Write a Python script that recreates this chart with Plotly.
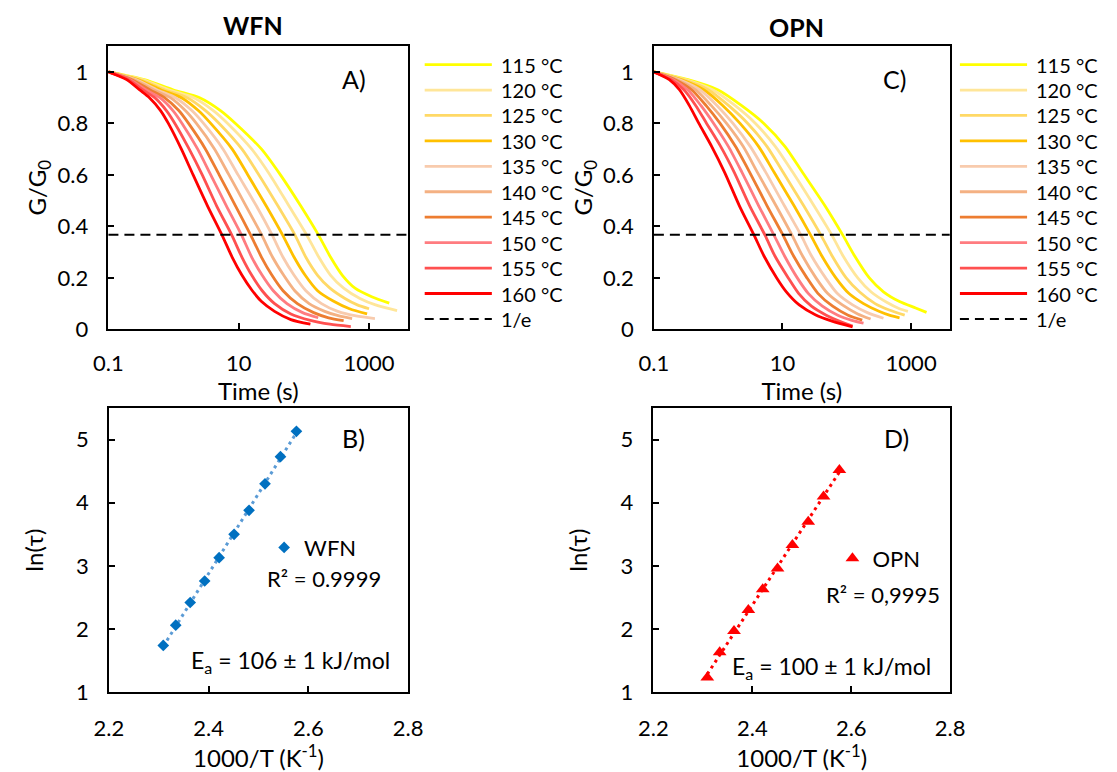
import numpy as np
import plotly.graph_objects as go

W, H = 1117, 772
FONT = "Lato, 'Open Sans', sans-serif"

TEMPS = [115, 120, 125, 130, 135, 140, 145, 150, 155, 160]
COLORS = ["#FFFF00", "#FFE699", "#FFD966", "#FFC000", "#F8CBAD",
          "#F4B183", "#ED7D31", "#FF7C80", "#FF5050", "#FF0000"]

# ---------------- WFN relaxation curves (log10 of time in s, G/G0) ----------------
G_TOP_A = [1.0, 0.97, 0.93, 0.9, 0.85, 0.8, 0.7, 0.6, 0.48, 0.368, 0.28, 0.21]
WFN_115_LOGT = [-1, -0.45, 0.00, 0.40, 0.72, 0.95, 1.35, 1.64, 1.95, 2.22, 2.41, 2.59, 2.79, 3.04, 3.31]
WFN_115_G = G_TOP_A + [0.159, 0.127, 0.102]
WFN_120_LOGT = [-1, -0.48, -0.06, 0.31, 0.61, 0.83, 1.20, 1.48, 1.77, 2.04, 2.23, 2.41, 2.61, 2.86, 3.10, 3.43]
WFN_120_G = G_TOP_A + [0.16, 0.12, 0.095, 0.073]
WFN_125_LOGT = [-1, -0.52, -0.13, 0.21, 0.49, 0.70, 1.05, 1.31, 1.60, 1.86, 2.03, 2.21, 2.40, 2.63, 2.82, 3.00]
WFN_125_G = G_TOP_A + [0.16, 0.12, 0.095, 0.08]
WFN_130_LOGT = [-1, -0.55, -0.19, 0.12, 0.38, 0.57, 0.90, 1.14, 1.42, 1.67, 1.85, 2.02, 2.21, 2.45, 2.70, 2.97]
WFN_130_G = G_TOP_A + [0.15, 0.11, 0.08, 0.06]
WFN_135_LOGT = [-1, -0.58, -0.25, 0.03, 0.28, 0.46, 0.76, 0.99, 1.27, 1.51, 1.68, 1.85, 2.03, 2.27, 2.52, 2.80, 3.09]
WFN_135_G = G_TOP_A + [0.15, 0.10, 0.07, 0.052, 0.042]
WFN_140_LOGT = [-1, -0.61, -0.30, -0.05, 0.18, 0.35, 0.63, 0.85, 1.11, 1.35, 1.52, 1.69, 1.86, 2.08, 2.32, 2.54, 2.74]
WFN_140_G = G_TOP_A + [0.15, 0.10, 0.07, 0.052, 0.042]
WFN_145_LOGT = [-1, -0.64, -0.36, -0.14, 0.08, 0.23, 0.49, 0.70, 0.95, 1.18, 1.35, 1.51, 1.68, 1.90, 2.15, 2.38, 2.61]
WFN_145_G = G_TOP_A + [0.15, 0.10, 0.065, 0.045, 0.034]
WFN_150_LOGT = [-1, -0.67, -0.42, -0.21, -0.01, 0.13, 0.37, 0.57, 0.81, 1.04, 1.20, 1.36, 1.53, 1.74, 1.98, 2.22]
WFN_150_G = G_TOP_A + [0.15, 0.10, 0.065, 0.045]
WFN_155_LOGT = [-1, -0.69, -0.47, -0.29, -0.11, 0.02, 0.24, 0.44, 0.66, 0.89, 1.05, 1.20, 1.36, 1.55, 1.80, 2.10, 2.40, 2.72]
WFN_155_G = G_TOP_A + [0.15, 0.10, 0.06, 0.035, 0.02, 0.011]
WFN_160_LOGT = [-1, -0.72, -0.52, -0.37, -0.20, -0.08, 0.12, 0.30, 0.52, 0.74, 0.90, 1.05, 1.20, 1.35, 1.55, 1.80, 2.10]
WFN_160_G = G_TOP_A + [0.153, 0.108, 0.07, 0.038, 0.02]

# ---------------- OPN relaxation curves ----------------
G_TOP_C = [1.0, 0.97, 0.93, 0.87, 0.8, 0.71, 0.61, 0.48, 0.365, 0.286, 0.2]
OPN_115_LOGT = [-1, -0.47, 0.00, 0.36, 0.71, 1.04, 1.31, 1.66, 1.94, 2.12, 2.35, 2.57, 2.82, 3.07, 3.24]
OPN_115_G = G_TOP_C + [0.146, 0.108, 0.083, 0.066]
OPN_120_LOGT = [-1, -0.51, -0.08, 0.26, 0.58, 0.89, 1.16, 1.49, 1.77, 1.94, 2.17, 2.38, 2.62, 2.82, 2.95]
OPN_120_G = G_TOP_C + [0.145, 0.105, 0.08, 0.07]
OPN_125_LOGT = [-1, -0.54, -0.15, 0.16, 0.46, 0.76, 1.01, 1.33, 1.60, 1.77, 1.99, 2.20, 2.44, 2.66, 2.90]
OPN_125_G = G_TOP_C + [0.145, 0.10, 0.075, 0.055]
OPN_130_LOGT = [-1, -0.58, -0.22, 0.07, 0.34, 0.63, 0.87, 1.18, 1.44, 1.61, 1.83, 2.03, 2.26, 2.50, 2.66, 2.82]
OPN_130_G = G_TOP_C + [0.14, 0.10, 0.07, 0.055, 0.045]
OPN_135_LOGT = [-1, -0.61, -0.28, -0.02, 0.23, 0.50, 0.74, 1.03, 1.29, 1.45, 1.67, 1.85, 2.09, 2.32, 2.57]
OPN_135_G = G_TOP_C + [0.14, 0.095, 0.065, 0.043]
OPN_140_LOGT = [-1, -0.64, -0.35, -0.11, 0.13, 0.39, 0.61, 0.90, 1.15, 1.31, 1.52, 1.70, 1.93, 2.17, 2.37]
OPN_140_G = G_TOP_C + [0.14, 0.095, 0.06, 0.04]
OPN_145_LOGT = [-1, -0.67, -0.41, -0.19, 0.03, 0.27, 0.49, 0.76, 1.01, 1.17, 1.38, 1.55, 1.78, 2.02, 2.24]
OPN_145_G = G_TOP_C + [0.14, 0.09, 0.055, 0.036]
OPN_150_LOGT = [-1, -0.70, -0.47, -0.27, -0.07, 0.16, 0.37, 0.63, 0.87, 1.03, 1.23, 1.40, 1.62, 1.86, 2.08, 2.26]
OPN_150_G = G_TOP_C + [0.14, 0.09, 0.055, 0.035, 0.024]
OPN_155_LOGT = [-1, -0.73, -0.53, -0.35, -0.18, 0.04, 0.25, 0.49, 0.73, 0.88, 1.09, 1.25, 1.45, 1.68, 1.90, 2.09]
OPN_155_G = G_TOP_C + [0.14, 0.09, 0.055, 0.03, 0.013]
OPN_160_LOGT = [-1, -0.76, -0.60, -0.45, -0.30, -0.10, 0.10, 0.33, 0.56, 0.71, 0.91, 1.06, 1.26, 1.51, 1.77, 2.09]
OPN_160_G = G_TOP_C + [0.146, 0.095, 0.057, 0.032, 0.010]

WFN_LOGT = [WFN_115_LOGT, WFN_120_LOGT, WFN_125_LOGT, WFN_130_LOGT, WFN_135_LOGT,
            WFN_140_LOGT, WFN_145_LOGT, WFN_150_LOGT, WFN_155_LOGT, WFN_160_LOGT]
WFN_G = [WFN_115_G, WFN_120_G, WFN_125_G, WFN_130_G, WFN_135_G,
         WFN_140_G, WFN_145_G, WFN_150_G, WFN_155_G, WFN_160_G]
OPN_LOGT = [OPN_115_LOGT, OPN_120_LOGT, OPN_125_LOGT, OPN_130_LOGT, OPN_135_LOGT,
            OPN_140_LOGT, OPN_145_LOGT, OPN_150_LOGT, OPN_155_LOGT, OPN_160_LOGT]
OPN_G = [OPN_115_G, OPN_120_G, OPN_125_G, OPN_130_G, OPN_135_G,
         OPN_140_G, OPN_145_G, OPN_150_G, OPN_155_G, OPN_160_G]

# ---------------- Arrhenius data ----------------
INV_T = [2.309, 2.334, 2.363, 2.392, 2.421, 2.451, 2.481, 2.513, 2.544, 2.576]   # 160 -> 115 °C
WFN_LN_TAU = [1.74, 2.06, 2.42, 2.76, 3.13, 3.50, 3.88, 4.30, 4.73, 5.13]
OPN_LN_TAU = [1.23, 1.63, 1.97, 2.30, 2.63, 2.96, 3.33, 3.70, 4.10, 4.52]
ONE_OVER_E = float(np.exp(-1))

X_TICKS_TOP = [0.1, 10, 1000]
Y_TICKS_TOP = [0, 0.2, 0.4, 0.6, 0.8, 1]
X_TICKS_BOT = [2.2, 2.4, 2.6, 2.8]
Y_TICKS_BOT = [1, 2, 3, 4, 5]

PAD = "\u2002\u2009"   # spacing between y tick labels and the axis line


def px(x):
    return x / W


def py(y):
    return 1 - y / H


fig = go.Figure()

# top panels
for axn, logts, gs in (("", WFN_LOGT, WFN_G), ("2", OPN_LOGT, OPN_G)):
    for temp, col, lt, g in zip(TEMPS, COLORS, logts, gs):
        fig.add_trace(go.Scatter(
            x=np.power(10.0, lt), y=g, mode="lines", name=f"{temp} °C",
            line=dict(color=col, width=2.8, shape="spline", smoothing=0.7),
            xaxis="x" + axn, yaxis="y" + axn, showlegend=False, hoverinfo="skip"))

# bottom panels
xs = np.array(INV_T)
for axn, lnt, mcol, lcol, sym, size, nm, leg in (
        ("3", WFN_LN_TAU, "#0070C0", "#5B9BD5", "diamond", 9, "WFN", "legend"),
        ("4", OPN_LN_TAU, "#FF0000", "#FF0000", "triangle-up", 12, "OPN", "legend2")):
    k, b = np.polyfit(xs, np.array(lnt), 1)
    xf = np.array([xs.min(), xs.max()])
    fig.add_trace(go.Scatter(x=xf, y=k * xf + b, mode="lines",
                             line=dict(color=lcol, width=3, dash="3px,4px"),
                             xaxis="x" + axn, yaxis="y" + axn, showlegend=False, hoverinfo="skip"))
    fig.add_trace(go.Scatter(x=INV_T, y=lnt, mode="markers", name=nm,
                             marker=dict(symbol=sym, size=size, color=mcol),
                             xaxis="x" + axn, yaxis="y" + axn, showlegend=True, legend=leg))

axis_common = dict(showline=True, mirror=True, linecolor="black", linewidth=2,
                   ticks="inside", ticklen=6, tickwidth=1.5, tickcolor="black",
                   showgrid=False, zeroline=False,
                   tickfont=dict(family=FONT, size=22, color="black"))

dom_top = [py(335), py(47)]
dom_bot = [py(704), py(415)]
xA = [px(96), px(404)]
xC = [px(656.5), px(960.5)]
xB = [px(96.5), px(404)]
xD = [px(656), px(961)]

TITLE_FONT = dict(family=FONT, size=24, color="black")
top_x = dict(type="log", range=[-1, 3.6], tickvals=X_TICKS_TOP,
             ticktext=[str(v) for v in X_TICKS_TOP], ticklabelstandoff=13,
             title=dict(text="Time (s)", font=TITLE_FONT, standoff=0),
             **axis_common)
top_y = dict(range=[0, 1.1], tickvals=Y_TICKS_TOP,
             ticktext=[f"{v:g}" + PAD for v in Y_TICKS_TOP],
             title=dict(text="G/G<sub>0</sub>", font=TITLE_FONT, standoff=4),
             **axis_common)
bot_x = dict(range=[2.2, 2.8], tickvals=X_TICKS_BOT, ticktext=[f"{v:.1f}" for v in X_TICKS_BOT],
             ticklabelstandoff=15,
             title=dict(text="1000/T (K<sup>-1</sup>)", font=TITLE_FONT, standoff=0),
             **axis_common)
bot_y = dict(range=[1, 5.5], tickvals=Y_TICKS_BOT,
             ticktext=[str(v) + PAD for v in Y_TICKS_BOT],
             title=dict(text="ln(τ)", font=TITLE_FONT, standoff=26),
             **axis_common)

fig.update_layout(
    width=W, height=H, autosize=False,
    margin=dict(l=0, r=0, t=0, b=0),
    paper_bgcolor="white", plot_bgcolor="white",
    font=dict(family=FONT, size=20, color="black"),
    xaxis=dict(domain=xA, anchor="y", **top_x),
    yaxis=dict(domain=dom_top, anchor="x", **top_y),
    xaxis2=dict(domain=xC, anchor="y2", **top_x),
    yaxis2=dict(domain=dom_top, anchor="x2", **top_y),
    xaxis3=dict(domain=xB, anchor="y3", **bot_x),
    yaxis3=dict(domain=dom_bot, anchor="x3", **bot_y),
    xaxis4=dict(domain=xD, anchor="y4", **bot_x),
    yaxis4=dict(domain=dom_bot, anchor="x4", **bot_y),
    legend=dict(x=px(256), y=py(557), xanchor="left", yanchor="middle",
                bgcolor="rgba(0,0,0,0)", font=dict(family=FONT, size=22, color="black"),
                itemwidth=30),
    legend2=dict(x=px(840), y=py(568), xanchor="left", yanchor="middle",
                 bgcolor="rgba(0,0,0,0)", font=dict(family=FONT, size=22, color="black"),
                 itemwidth=30),
)

shapes = []
annotations = []
# 1/e reference lines
for xr, yr in (("x", "y"), ("x2", "y2")):
    shapes.append(dict(type="line", xref=xr + " domain", yref=yr, x0=0, x1=1,
                       y0=ONE_OVER_E, y1=ONE_OVER_E,
                       line=dict(color="black", width=2, dash="10px,6px")))

# manual legends for top panels
ROW0, DROW = 65.7, 25.87
for lx0, lx1, tx in ((421, 490, 497), (971, 1040, 1047)):
    for i, (temp, col) in enumerate(zip(TEMPS, COLORS)):
        yy = ROW0 + i * DROW
        shapes.append(dict(type="line", xref="paper", yref="paper",
                           x0=px(lx0), x1=px(lx1), y0=py(yy), y1=py(yy),
                           line=dict(color=col, width=2.8)))
        annotations.append(dict(text=f"{temp} °C", xref="paper", yref="paper",
                                x=px(tx), y=py(yy), xanchor="left", yanchor="middle",
                                showarrow=False, font=dict(family=FONT, size=20)))
    yy = ROW0 + 10 * DROW
    shapes.append(dict(type="line", xref="paper", yref="paper",
                       x0=px(lx0), x1=px(lx1), y0=py(yy), y1=py(yy),
                       line=dict(color="black", width=2, dash="9px,6px")))
    annotations.append(dict(text="1/e", xref="paper", yref="paper",
                            x=px(tx), y=py(yy), xanchor="left", yanchor="middle",
                            showarrow=False, font=dict(family=FONT, size=20)))

# titles and labels
texts = [
    ("<b>WFN</b>", 245, 25, 25, "center"),
    ("<b>OPN</b>", 803, 27, 25, "center"),
    ("A)", 348, 80, 25, "center"),
    ("C)", 904, 80, 25, "center"),
    ("B)", 348, 445, 25, "center"),
    ("D)", 906, 445, 25, "center"),
    ("R² = 0.9999", 318, 588, 22, "center"),
    ("E<sub>a</sub> = 106 ± 1 kJ/mol", 283, 673, 23, "center"),
    ("R² = 0,9995", 892, 605, 22, "center"),
    ("E<sub>a</sub> = 100 ± 1 kJ/mol", 839, 679, 23, "center"),
]
for t, x, y, s, anc in texts:
    annotations.append(dict(text=t, xref="paper", yref="paper", x=px(x), y=py(y),
                            xanchor=anc, yanchor="middle", showarrow=False,
                            font=dict(family=FONT, size=s, color="black")))

fig.update_layout(shapes=shapes, annotations=annotations)

fig.write_html("out.html", config={"displayModeBar": False},
               post_script="document.body.style.margin='0px';")
